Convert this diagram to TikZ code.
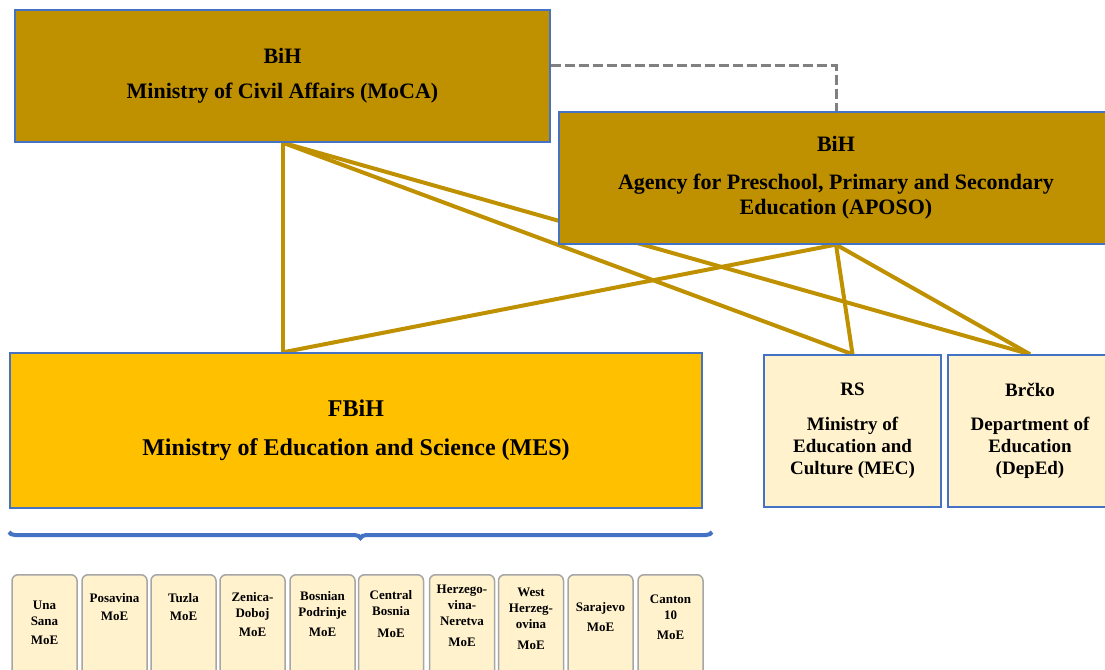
\documentclass[tikz,border=0pt]{standalone}
\usepackage{fontspec}
\setmainfont{Liberation Serif}
\usetikzlibrary{positioning,backgrounds}
\usetikzlibrary{decorations.pathreplacing}
\definecolor{darkgold}{HTML}{BF9000}
\definecolor{gold}{HTML}{FFC000}
\definecolor{paleyellow}{HTML}{FFF2CC}
\definecolor{boxblue}{HTML}{4472C4}
\definecolor{moegray}{HTML}{A6A6A6}
\tikzstyle{statenode}=[draw=boxblue, line width=1.2, fill=darkgold, align=center, inner sep=0, font=\bfseries\fontsize{22}{25}\selectfont]
\tikzstyle{entitynode}=[draw=boxblue, line width=1.5, fill=paleyellow, align=center, inner sep=0, font=\bfseries\fontsize{19}{22}\selectfont]
\tikzstyle{moebox}=[draw=moegray, line width=1.5, rounded corners=6, fill=paleyellow, minimum width=65, minimum height=120, anchor=north]
\tikzstyle{moetext}=[align=center, inner sep=0, font=\bfseries\fontsize{13}{16}\selectfont]
\tikzstyle{link}=[draw=darkgold, line width=4]
\newcommand{\cantonbox}[4]{\node[moebox] (#1) at (#2,574) {};
  \node[moetext] (#1text) at (#2,#3) {#4};}

\begin{document}
\begin{tikzpicture}[x=1pt, y=-1pt]
\useasboundingbox (0,0) rectangle (1105,669);
% state level
\node[statenode, minimum width=535, minimum height=132] (moca) at (282.5,76) {BiH\\[10pt]Ministry of Civil Affairs (MoCA)};
\node[statenode, minimum width=554, minimum height=132] (aposo) at (836,178) {BiH\\[13pt]Agency for Preschool, Primary and Secondary\\Education (APOSO)};
\draw[draw=gray, line width=3, dash pattern=on 10pt off 4pt] ([yshift=10pt]moca.east) -| (aposo.north);
% entities
\node[statenode, fill=gold, minimum width=692, minimum height=155, font=\bfseries\fontsize{24}{28}\selectfont] (fbih) at (356,430.5) {FBiH\\[11pt]Ministry of Education and Science (MES)};
\node[entitynode, minimum width=177, minimum height=152] (rs) at (852.5,431) {RS\\[13pt]Ministry of\\Education and\\Culture (MEC)};
\node[entitynode, minimum width=164, minimum height=152] (brcko) at (1030,431) {Brčko\\[12pt]Department of\\Education\\(DepEd)};
\begin{scope}[on background layer]
\draw[link] (moca.south) -- (fbih.north -| moca.south);
\draw[link] (moca.south) -- (rs.north);
\draw[link] (moca.south) -- (brcko.north);
\draw[link] (aposo.south) -- (fbih.north -| moca.south);
\draw[link] (aposo.south) -- (rs.north);
\draw[link] (aposo.south) -- (brcko.north);
\end{scope}
% cantons
\draw[draw=boxblue, line width=4, decorate, decoration={brace, mirror, amplitude=6pt}] (9,532) -- (712,532);
\cantonbox{una}{44.5}{623}{Una\\Sana\\[3pt]MoE}
\cantonbox{posavina}{114.5}{607.5}{Posavina\\[2pt]MoE}
\cantonbox{tuzla}{183.5}{607.5}{Tuzla\\[2pt]MoE}
\cantonbox{zenica}{252.5}{614.5}{Zenica-\\Doboj\\[3pt]MoE}
\cantonbox{podrinje}{322.5}{614.5}{Bosnian\\Podrinje\\[4pt]MoE}
\cantonbox{central}{391}{614}{Central\\Bosnia\\[6pt]MoE}
\cantonbox{neretva}{462}{616}{Herzego-\\vina-\\Neretva\\[5pt]MoE}
\cantonbox{west}{531}{619}{West\\Herzeg-\\ovina\\[5pt]MoE}
\cantonbox{sarajevo}{600.5}{617.5}{Sarajevo\\[4pt]MoE}
\cantonbox{canton}{670.5}{617}{Canton\\10\\[4pt]MoE}
\end{tikzpicture}
\end{document}
